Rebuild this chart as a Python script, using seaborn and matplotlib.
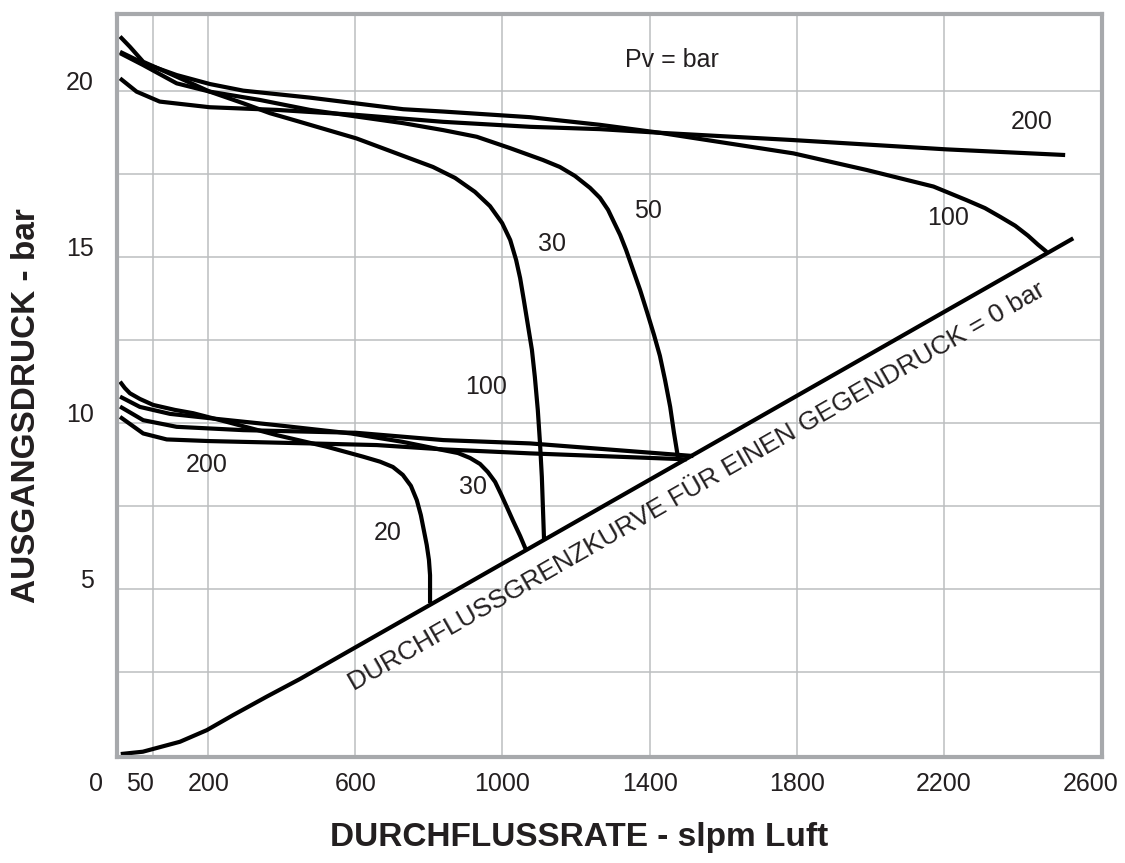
import matplotlib
matplotlib.use("Agg")
import matplotlib.pyplot as plt
import matplotlib.transforms as mtransforms
import numpy as np
import pandas as pd
import seaborn as sns

# ------------------------------------------------------------------
# Kennlinien abgelesen (Durchfluss in slpm Luft, Ausgangsdruck in bar)
# ------------------------------------------------------------------
# Obere Schar (Einstellung ca. 20 bar), Pv = 30 / 50 / 100 / 200 bar
o30_x = [-40, -13, 23, 114, 204, 295, 368, 449, 603, 748, 811, 871, 925, 966, 999, 1021, 1037, 1048, 1058,
         1069, 1080, 1088, 1096, 1102, 1107, 1113]
o30_y = [21.64, 21.33, 20.88, 20.43, 19.98, 19.63, 19.33, 19.07, 18.57, 17.97, 17.71, 17.38, 16.96, 16.53, 16.02,
         15.51, 14.91, 14.36, 13.70, 12.95, 12.20, 11.38, 10.39, 9.39, 8.37, 6.47]

o50_x = [-40, 23, 114, 204, 340, 476, 603, 730, 839, 930, 1020, 1110, 1156, 1197, 1238, 1265, 1287, 1303, 1320,
         1336, 1355, 1374, 1393, 1412, 1428, 1442, 1456, 1466, 1477]
o50_y = [21.14, 20.78, 20.23, 19.98, 19.73, 19.43, 19.23, 19.03, 18.82, 18.62, 18.28, 17.92, 17.71, 17.44, 17.08,
         16.78, 16.42, 16.05, 15.66, 15.21, 14.61, 14.01, 13.34, 12.65, 12.02, 11.29, 10.48, 9.72, 8.97]

o100_x = [-40, 23, 114, 204, 295, 476, 730, 839, 1075, 1265, 1428, 1791, 1990, 2172, 2262, 2312, 2353, 2394,
          2429, 2456, 2480]
o100_y = [21.18, 20.84, 20.48, 20.21, 20.01, 19.80, 19.45, 19.38, 19.21, 18.98, 18.74, 18.12, 17.62, 17.12, 16.71,
          16.47, 16.21, 15.94, 15.64, 15.37, 15.15]

o200_x = [-40, 5, 68, 204, 386, 602, 839, 1075, 1265, 1428, 1791, 2208, 2530]
o200_y = [20.38, 19.98, 19.68, 19.51, 19.43, 19.28, 19.07, 18.92, 18.85, 18.74, 18.52, 18.24, 18.07]

# Untere Schar (Einstellung ca. 10 bar), Pv = 20 / 30 / 100 / 200 bar
u20_x = [-40, -27, -13, 14, 50, 109, 159, 250, 386, 522, 621, 667, 702, 729, 751, 767, 778, 786, 794, 800, 803, 803]
u20_y = [11.24, 11.05, 10.89, 10.72, 10.54, 10.39, 10.29, 10.03, 9.63, 9.28, 8.98, 8.83, 8.67, 8.43, 8.10, 7.67,
         7.22, 6.77, 6.32, 5.87, 5.41, 4.57]

u30_x = [-40, 14, 96, 204, 386, 588, 727, 838, 879, 912, 939, 960, 980, 996, 1012, 1029, 1048, 1064]
u30_y = [10.79, 10.48, 10.27, 10.14, 9.93, 9.68, 9.43, 9.18, 9.09, 8.94, 8.76, 8.52, 8.22, 7.85, 7.46, 7.04,
         6.59, 6.17]

u100_x = [-40, 23, 114, 295, 602, 839, 1075, 1519]
u100_y = [10.49, 10.08, 9.88, 9.78, 9.70, 9.48, 9.38, 9.00]

u200_x = [-40, 23, 87, 204, 476, 658, 839, 1075, 1501]
u200_y = [10.18, 9.68, 9.50, 9.45, 9.38, 9.33, 9.20, 9.08, 8.90]

# Durchflussgrenzkurve (Gegendruck = 0 bar)
grenz_x = [-38, 22, 123, 196, 267, 359, 449, 1537, 2552]
grenz_y = [0.02, 0.09, 0.39, 0.74, 1.19, 1.75, 2.28, 9.15, 15.56]

# Beschriftungen der Kurven
kurven_text = ["Pv = bar", "200", "100", "50", "30", "100", "200", "30", "20"]
kurven_text_x = [1461, 2440, 2212, 1396, 1135, 956, 197, 921, 688]
kurven_text_y = [20.93, 19.07, 16.18, 16.38, 15.39, 11.09, 8.73, 8.07, 6.67]

# Achsen
x_ticks = [0, 50, 200, 600, 1000, 1400, 1800, 2200, 2600]
x_grid = [50, 200, 600, 1000, 1400, 1800, 2200]
y_ticks = [5, 10, 15, 20]
y_grid = [2.5, 5, 7.5, 10, 12.5, 15, 17.5, 20]

TEXT_COLOR = "#231f20"


def build_frame():
    kurven = {
        "o30": (o30_x, o30_y), "o50": (o50_x, o50_y), "o100": (o100_x, o100_y), "o200": (o200_x, o200_y),
        "u20": (u20_x, u20_y), "u30": (u30_x, u30_y), "u100": (u100_x, u100_y), "u200": (u200_x, u200_y),
        "grenz": (grenz_x, grenz_y),
    }
    parts = []
    for name, (xs, ys) in kurven.items():
        parts.append(pd.DataFrame({"slpm": xs, "bar": ys, "kurve": name, "punkt": np.arange(len(xs))}))
    return pd.concat(parts, ignore_index=True)


def main():
    sns.set_theme(style="white")
    plt.rcParams["font.family"] = ["Liberation Sans", "DejaVu Sans"]

    fig = plt.figure(figsize=(11.25, 8.63), dpi=100)
    ax = fig.add_axes([0.1044, 0.1228, 0.8751, 0.861])

    df = build_frame()
    sns.lineplot(data=df, x="slpm", y="bar", units="kurve", estimator=None, sort=False,
                 color="black", linewidth=3, legend=False, ax=ax,
                 solid_joinstyle="round", solid_capstyle="butt")

    ax.set_xlim(-47, 2630)
    ax.set_ylim(-0.07, 22.32)

    # Gitter über Nebenteilstriche, Beschriftung über Hauptteilstriche
    ax.set_xticks(x_ticks)
    ax.set_xticklabels([str(v) for v in x_ticks])
    ax.set_yticks(y_ticks)
    ax.set_yticklabels([str(v) for v in y_ticks])
    ax.set_xticks(x_grid, minor=True)
    ax.set_yticks(y_grid, minor=True)
    ax.xaxis.remove_overlapping_locs = False
    ax.yaxis.remove_overlapping_locs = False
    ax.grid(False, which="major")
    ax.grid(True, which="minor", color="#bcbec0", linewidth=1.1)
    ax.set_axisbelow(True)
    ax.tick_params(which="both", length=0)
    ax.tick_params(axis="x", which="major", labelsize=18, pad=11, labelcolor=TEXT_COLOR)
    ax.tick_params(axis="y", which="major", labelsize=18, pad=17, labelcolor=TEXT_COLOR)

    for spine in ax.spines.values():
        spine.set_visible(True)
        spine.set_color("#a7a9ac")
        spine.set_linewidth(3)

    # Beschriftungen der Teilstriche leicht versetzt wie im Original
    dy = mtransforms.ScaledTranslation(0, 0.10, fig.dpi_scale_trans)
    for lab in ax.get_yticklabels():
        lab.set_transform(lab.get_transform() + dy)
    xlabs = ax.get_xticklabels()
    xlabs[0].set_transform(xlabs[0].get_transform() + mtransforms.ScaledTranslation(-0.39, 0, fig.dpi_scale_trans))
    xlabs[1].set_transform(xlabs[1].get_transform() + mtransforms.ScaledTranslation(-0.13, 0, fig.dpi_scale_trans))

    ax.set_xlabel("DURCHFLUSSRATE - slpm Luft", fontsize=24, fontweight="bold", color=TEXT_COLOR)
    ax.xaxis.set_label_coords(0.469, -0.088)
    ax.set_ylabel("AUSGANGSDRUCK - bar", fontsize=24, fontweight="bold", color=TEXT_COLOR)
    ax.yaxis.set_label_coords(-0.0767, 0.4724)

    for txt, tx, ty in zip(kurven_text, kurven_text_x, kurven_text_y):
        ax.text(tx, ty, txt, fontsize=18, color=TEXT_COLOR, ha="center", va="center")

    ax.text(595, 1.93, "DURCHFLUSSGRENZKURVE FÜR EINEN GEGENDRUCK = 0 bar",
            fontsize=19, color=TEXT_COLOR, ha="left", va="baseline",
            rotation=29.8, rotation_mode="anchor")

    fig.savefig("out.png", dpi=100, facecolor="white")
    plt.close(fig)


if __name__ == "__main__":
    main()
